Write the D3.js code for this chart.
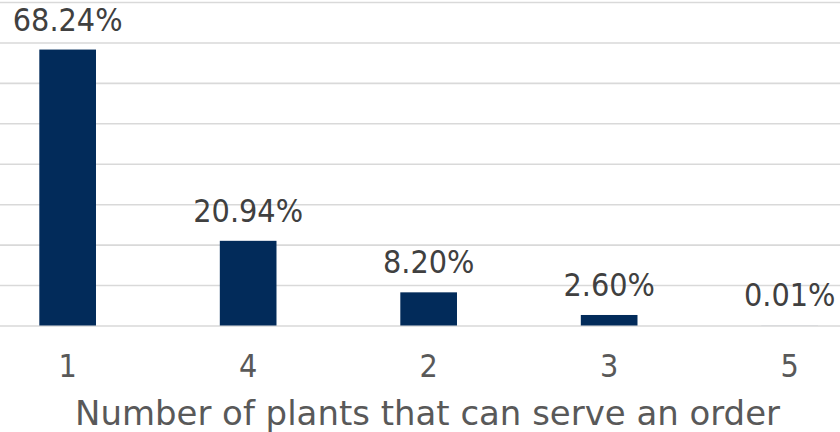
<!DOCTYPE html>
<html>
<head>
<meta charset="utf-8">
<script src="https://cdn.jsdelivr.net/npm/d3@7"></script>
<style>
  html, body { margin: 0; padding: 0; background: #fff; }
  svg { display: block; }
  text.cond { font-stretch: condensed; }
</style>
</head>
<body>
<svg id="chart" width="840" height="432"></svg>
<script>
// Share of orders by how many plants are able to serve them
const categories = ["1", "4", "2", "3", "5"];
const shares = [68.24, 20.94, 8.20, 2.60, 0.01];
const gridTicks = [0, 10, 20, 30, 40, 50, 60, 70, 80];
const axisTitle = "Number of plants that can serve an order";

const W = 840, H = 432;
const svg = d3.select("#chart");
const condFont = "'DejaVu Sans Condensed', 'DejaVu Sans', sans-serif";
const titleFont = "'DejaVu Sans', Verdana, sans-serif";

const x = d3.scaleBand()
  .domain(categories)
  .range([-22.6, 879.9])
  .paddingInner(0.686)
  .paddingOuter(0.343);

const y = d3.scaleLinear()
  .domain([0, 80])
  .range([325.5, 2]);

// horizontal gridlines via a left axis with full-width ticks
const grid = svg.append("g")
  .call(d3.axisLeft(y).tickValues(gridTicks).tickSize(-W).tickFormat(""));
grid.select(".domain").remove();
grid.selectAll(".tick line")
  .attr("x1", 0).attr("x2", W)
  .attr("stroke", "#d9d9d9")
  .attr("stroke-width", 1.6);

// bars
svg.append("g").selectAll("rect")
  .data(shares)
  .join("rect")
  .attr("x", (d, i) => x(categories[i]))
  .attr("width", x.bandwidth())
  .attr("y", d => y(d))
  .attr("height", d => y(0) - y(d))
  .attr("fill", "#022b5a");

// value labels above bars
svg.append("g").selectAll("text")
  .data(shares)
  .join("text")
  .attr("class", "cond")
  .attr("x", (d, i) => x(categories[i]) + x.bandwidth() / 2)
  .attr("y", d => Math.max(y(d) - 19, 31))
  .attr("text-anchor", "middle")
  .attr("font-family", condFont)
  .attr("font-size", 32)
  .attr("fill", "#404040")
  .text(d => d.toFixed(2) + "%");

// category axis labels
const xAxis = svg.append("g")
  .attr("transform", `translate(0,${y(0)})`)
  .call(d3.axisBottom(x).tickSize(0).tickPadding(0));
xAxis.select(".domain").remove();
xAxis.selectAll(".tick text")
  .attr("class", "cond")
  .attr("dy", null)
  .attr("y", 51.5)
  .attr("font-family", condFont)
  .attr("font-size", 32)
  .attr("fill", "#595959");

// axis title
svg.append("text")
  .attr("x", 75)
  .attr("y", 424.5)
  .attr("text-anchor", "start")
  .attr("textLength", 705)
  .attr("lengthAdjust", "spacingAndGlyphs")
  .attr("font-family", titleFont)
  .attr("font-size", 34)
  .attr("fill", "#595959")
  .text(axisTitle);
</script>
</body>
</html>
